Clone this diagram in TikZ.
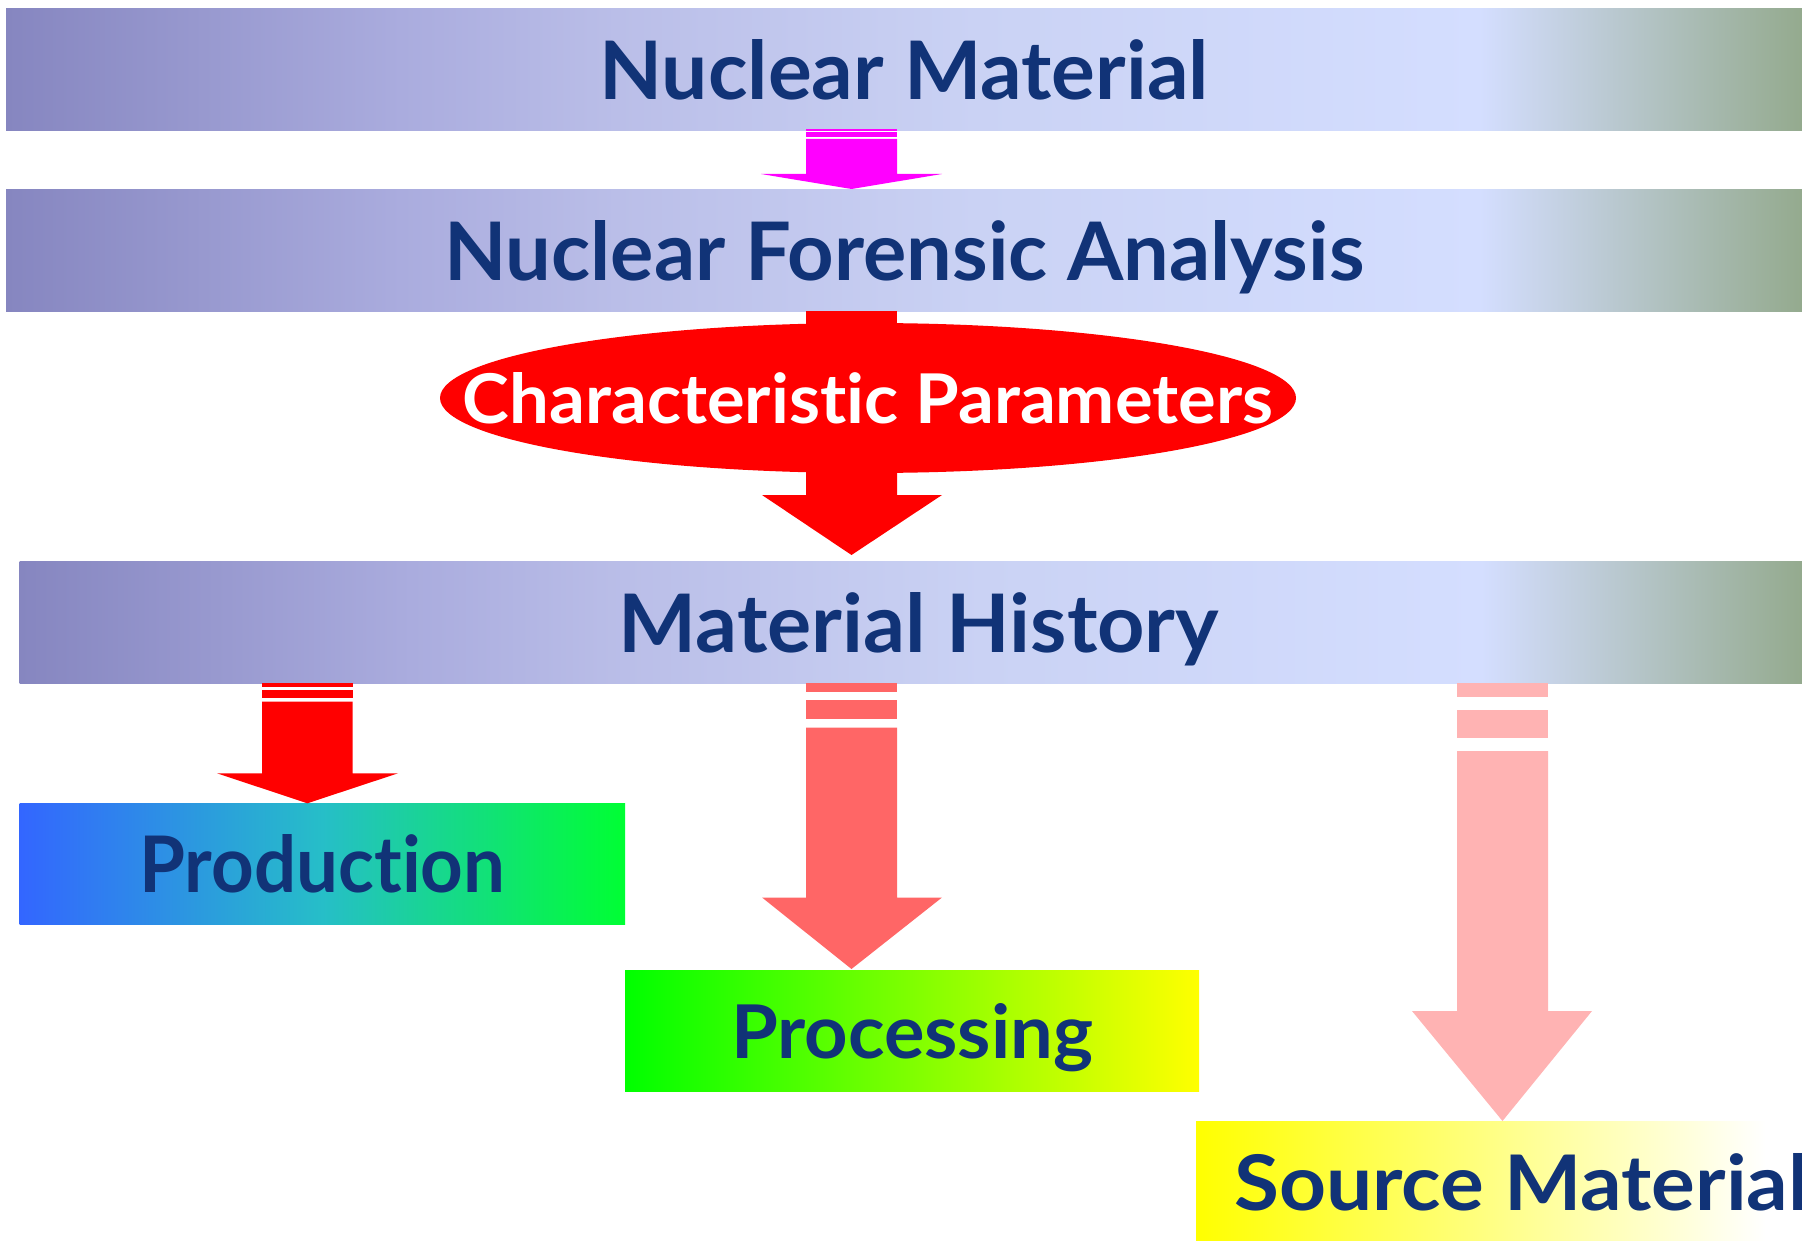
\documentclass[tikz,border=0pt]{standalone}
\usepackage{fontspec}
\usepackage{graphicx}
\setmainfont{Lato}[Ligatures=NoCommon]
\usetikzlibrary{shapes.geometric}
\definecolor{navy}{RGB}{17,51,119}
\definecolor{barL}{RGB}{134,134,192}
\definecolor{barA}{RGB}{170,172,222}
\definecolor{barB}{RGB}{186,190,232}
\definecolor{barC}{RGB}{202,210,244}
\definecolor{barM}{RGB}{212,222,255}
\definecolor{barR}{RGB}{148,170,142}
\definecolor{prodL}{RGB}{51,102,255}
\definecolor{prodM}{RGB}{38,190,200}
\definecolor{prodR}{RGB}{0,255,51}
\definecolor{procL}{RGB}{0,255,0}
\definecolor{procR}{RGB}{255,255,0}
\definecolor{srcL}{RGB}{255,255,0}
\definecolor{srcR}{RGB}{255,255,255}
\definecolor{magarrow}{RGB}{255,0,255}
\definecolor{redarrow}{RGB}{255,0,0}
\definecolor{midarrow}{RGB}{255,102,102}
\definecolor{lightarrow}{RGB}{255,179,179}
\pgfdeclarehorizontalshading{barshade}{100bp}{color(0bp)=(barL); color(25bp)=(barL); color(36bp)=(barA); color(42bp)=(barB); color(52bp)=(barC); color(66bp)=(barM); color(75bp)=(barR); color(100bp)=(barR)}
\pgfdeclarehorizontalshading{prodshade}{100bp}{color(0bp)=(prodL); color(25bp)=(prodL); color(50bp)=(prodM); color(75bp)=(prodR); color(100bp)=(prodR)}
\pgfdeclarehorizontalshading{procshade}{100bp}{color(0bp)=(procL); color(25bp)=(procL); color(75bp)=(procR); color(100bp)=(procR)}
\pgfdeclarehorizontalshading{srcshade}{100bp}{color(0bp)=(srcL); color(25bp)=(srcL); color(72bp)=(srcR); color(100bp)=(srcR)}
\tikzset{
  band/.style={rectangle, inner sep=0pt, anchor=north west, minimum height=122pt, text depth=0pt, font=\bfseries, text=navy},
  bandtext/.style={inner sep=0pt, font=\bfseries, text=navy},
}
% fat arrow: colour, stem left, stem right, head left, head right, stem top, head base, tip
\newcommand\fatarrow[8]{%
  \fill[#1] (#2,#6) -- (#3,#6) -- (#3,#7) -- (#5,#7) -- ({(#2+#3)/2},#8) -- (#4,#7) -- (#2,#7) -- cycle;}
\begin{document}
\begin{tikzpicture}[x=1pt,y=-1pt]
\useasboundingbox (0,0) rectangle (1802,1241);
\clip (0,0) rectangle (1802,1241);
% bands
\node[band, shading=barshade, minimum width=1796pt] (nm) at (6,8)
  {\resizebox{609pt}{60pt}{Nuclear Material}};
\node[band, shading=barshade, minimum width=1796pt] (nfa) at (6,189)
  {\resizebox{920pt}{60pt}{Nuclear Forensic Analysis}};
\node[band, shading=barshade, minimum width=1782.5pt] (mh) at (19.5,561)
  {\hspace{16pt}\resizebox{600pt}{60pt}{Material History}};
\node[band, shading=prodshade, minimum width=605.5pt, minimum height=121pt] (prod) at (19.5,803)
  {\resizebox{366pt}{58pt}{Production}};
\node[band, shading=procshade, minimum width=574pt, minimum height=121pt] (proc) at (625,970)
  {\resizebox{362pt}{55pt}{Processing}};
\node[band, shading=srcshade, minimum width=606pt, minimum height=121pt] (src) at (1196,1121) {};
\node[bandtext, anchor=base west] (srctext) at (1234,1210)
  {\resizebox{574pt}{57pt}{Source Material}};
% arrow: Nuclear Material -> Nuclear Forensic Analysis (magenta)
\fill[magarrow] (806,129) rectangle (897,131);
\fill[magarrow] (806,132.5) rectangle (897,136.7);
\fatarrow{magarrow}{806}{897}{761}{942}{139}{174}{189}
% arrow: Nuclear Forensic Analysis -> Characteristic Parameters -> Material History (red)
\fill[redarrow] (806,311) rectangle (897,340);
\fatarrow{redarrow}{806}{897}{762}{942}{455}{495}{555}
% ellipse
\node[ellipse, fill=redarrow, inner sep=0pt, minimum width=856pt, minimum height=150pt,
      text=white, font=\bfseries, text depth=0pt] (cp) at (868,398)
  {\makebox[0pt]{\resizebox{810pt}{51pt}{Characteristic Parameters}}};
% arrow: Material History -> Production
\fill[redarrow] (262,683) rectangle (352.7,686.7);
\fill[redarrow] (262,690) rectangle (352.7,697.7);
\fatarrow{redarrow}{262}{352.7}{217}{398}{701.7}{773.3}{803.3}
% arrow: Material History -> Processing
\fill[midarrow] (806,683) rectangle (897,692);
\fill[midarrow] (806,700) rectangle (897,719);
\fatarrow{midarrow}{806}{897}{762}{942}{727.7}{897.5}{969}
% arrow: Material History -> Source Material
\fill[lightarrow] (1457,683) rectangle (1548,697);
\fill[lightarrow] (1457,710) rectangle (1548,737.7);
\fatarrow{lightarrow}{1457}{1548}{1412}{1592}{751}{1011}{1121}
\end{tikzpicture}
\end{document}
